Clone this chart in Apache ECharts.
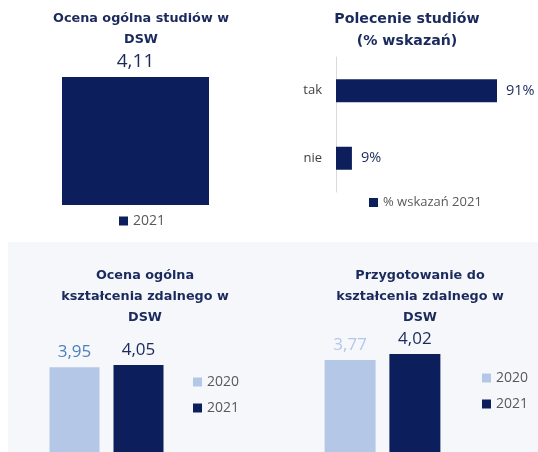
<!DOCTYPE html>
<html><head><meta charset="utf-8">
<script src="https://cdn.jsdelivr.net/npm/echarts@6/dist/echarts.min.js"></script>
<style>html,body{margin:0;padding:0;background:#fff}#c{width:538px;height:452px}</style>
</head><body><div id="c"></div>
<script>
// Chart 1
const c1Values = [4.11];
const c1Labels = ['4,11'];
// Chart 2
const c2Categories = ['tak', 'nie'];
const c2Values = [91, 9];
const c2Labels = ['91%', '9%'];
// Chart 3
const c3Series = ['2020', '2021'];
const c3Values = [3.95, 4.05];
const c3Labels = ['3,95', '4,05'];
// Chart 4
const c4Series = ['2020', '2021'];
const c4Values = [3.77, 4.02];
const c4Labels = ['3,77', '4,02'];

const NAVY = '#0c1f5c';
const LIGHT = '#b4c7e7';
const TITLE = '#1a2a5c';
const FONT = 'Open Sans';
const TFONT = 'DejaVu Sans';

const chart = echarts.init(document.getElementById('c'));
const titleStyle = {fontFamily: TFONT, fontWeight: 'bold', fontSize: 12.8, color: TITLE, lineHeight: 21};
const legendText = {fontFamily: FONT, fontSize: 14, color: '#595959'};
const legendText2 = {fontFamily: FONT, fontSize: 13, color: '#595959'};

function hiddenVal(gi, max) {
  return {type: 'value', gridIndex: gi, min: 0, max: max, show: false};
}

chart.setOption({
  animation: false,
  graphic: [{type: 'rect', shape: {x: 8, y: 242, width: 530, height: 210}, style: {fill: '#f5f7fb'}, z: -10}],
  title: [
    {text: 'Ocena ogólna studiów w\nDSW', left: 136, top: 3, textAlign: 'center', textStyle: titleStyle},
    {text: 'Polecenie studiów\n(% wskazań)', left: 402, top: 3, textAlign: 'center', textStyle: Object.assign({}, titleStyle, {fontSize: 14.2, lineHeight: 22})},
    {text: 'Ocena ogólna\nkształcenia zdalnego w\nDSW', left: 140, top: 260, textAlign: 'center', textStyle: titleStyle},
    {text: 'Przygotowanie do\nkształcenia zdalnego w\nDSW', left: 415, top: 260, textAlign: 'center', textStyle: titleStyle}
  ],
  legend: [
    {data: ['2021'], left: 114, top: 209, itemWidth: 9, itemHeight: 9, icon: 'rect', textStyle: legendText, selectedMode: false},
    {data: ['% wskazań 2021'], left: 364, top: 191, itemWidth: 9, itemHeight: 9, icon: 'rect', textStyle: legendText2, selectedMode: false},
    {data: c3Series, orient: 'vertical', left: 188, top: 370, itemGap: 12, itemWidth: 9, itemHeight: 9, icon: 'rect', textStyle: legendText, selectedMode: false},
    {data: c4Series, orient: 'vertical', left: 477, top: 366, itemGap: 12, itemWidth: 9, itemHeight: 9, icon: 'rect', textStyle: legendText, selectedMode: false}
  ],
  grid: [
    {left: 62, width: 147, top: 77, height: 128},
    {left: 336, width: 161, top: 57, height: 135},
    {left: 40, width: 133, top: 365, height: 109},
    {left: 316, width: 133, top: 354, height: 120}
  ],
  xAxis: [
    {type: 'category', gridIndex: 0, data: [''], show: false},
    {type: 'value', gridIndex: 1, min: 0, max: 91, show: false},
    {type: 'category', gridIndex: 2, data: [''], show: false},
    {type: 'category', gridIndex: 3, data: [''], show: false}
  ],
  yAxis: [
    hiddenVal(0, 4.11),
    {type: 'category', gridIndex: 1, data: c2Categories, inverse: true,
     axisLine: {show: true, lineStyle: {color: '#d9d9d9'}}, axisTick: {show: false},
     axisLabel: {fontFamily: FONT, fontSize: 13, color: '#404040', margin: 14}},
    hiddenVal(2, 4.05),
    hiddenVal(3, 4.02)
  ],
  series: [
    {type: 'bar', name: '2021', xAxisIndex: 0, yAxisIndex: 0, data: c1Values, barWidth: 147,
     itemStyle: {color: NAVY},
     label: {show: true, position: 'top', distance: 6, formatter: p => c1Labels[p.dataIndex], fontFamily: FONT, fontSize: 19, color: TITLE}},
    {type: 'bar', name: '% wskazań 2021', xAxisIndex: 1, yAxisIndex: 1, data: c2Values, barWidth: 23,
     itemStyle: {color: NAVY},
     label: {show: true, position: 'right', distance: 9, formatter: p => c2Labels[p.dataIndex], fontFamily: FONT, fontSize: 14.5, color: TITLE}},
    {type: 'bar', name: c3Series[0], xAxisIndex: 2, yAxisIndex: 2, data: [c3Values[0]], barWidth: 50, barGap: '28%',
     itemStyle: {color: LIGHT},
     label: {show: true, position: 'top', distance: 6, formatter: () => c3Labels[0], fontFamily: FONT, fontSize: 17, color: '#4a7fc0'}},
    {type: 'bar', name: c3Series[1], xAxisIndex: 2, yAxisIndex: 2, data: [c3Values[1]], barWidth: 50, barGap: '28%',
     itemStyle: {color: NAVY},
     label: {show: true, position: 'top', distance: 6, formatter: () => c3Labels[1], fontFamily: FONT, fontSize: 17, color: TITLE}},
    {type: 'bar', name: c4Series[0], xAxisIndex: 3, yAxisIndex: 3, data: [c4Values[0]], barWidth: 51, barGap: '27%',
     itemStyle: {color: LIGHT},
     label: {show: true, position: 'top', distance: 6, formatter: () => c4Labels[0], fontFamily: FONT, fontSize: 17, color: LIGHT}},
    {type: 'bar', name: c4Series[1], xAxisIndex: 3, yAxisIndex: 3, data: [c4Values[1]], barWidth: 51, barGap: '27%',
     itemStyle: {color: NAVY},
     label: {show: true, position: 'top', distance: 6, formatter: () => c4Labels[1], fontFamily: FONT, fontSize: 17, color: TITLE}}
  ]
});
</script></body></html>
